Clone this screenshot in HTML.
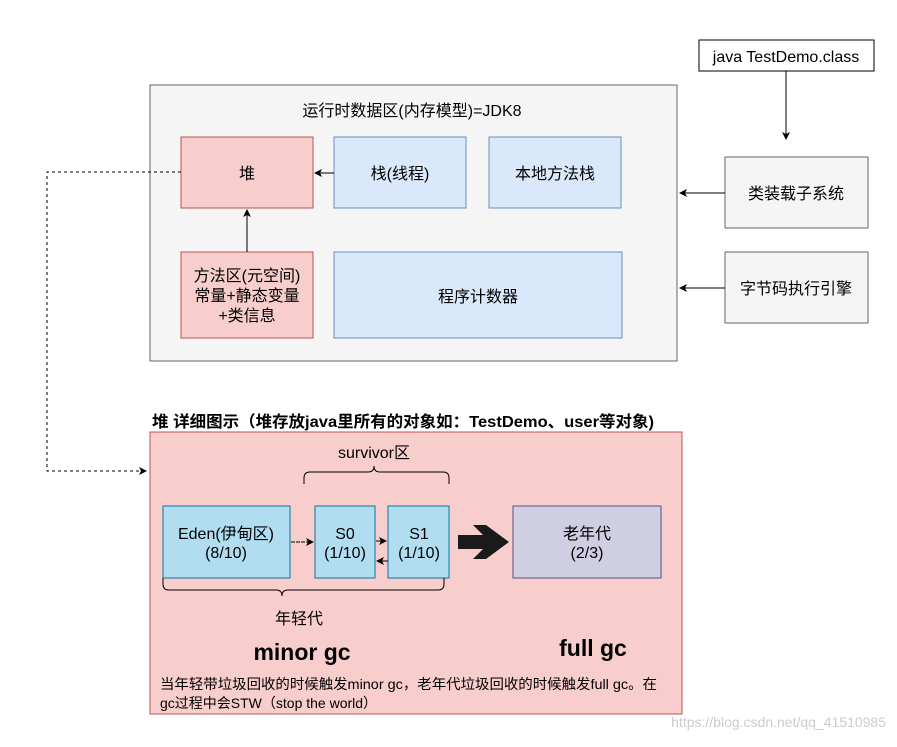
<!DOCTYPE html>
<html><head><meta charset="utf-8"><style>
body{margin:0;background:#fff;}
svg text{font-family:"Liberation Sans","Noto Sans CJK SC",sans-serif;}
</style></head><body>
<svg width="897" height="742" xmlns="http://www.w3.org/2000/svg">
<defs>
<marker id="a" markerWidth="8" markerHeight="8" refX="7" refY="4" orient="auto" markerUnits="userSpaceOnUse"><path d="M0,0 L8,4 L0,8 L2,4 z" fill="#000"/></marker>
</defs>
<rect x="150" y="85" width="527" height="276" fill="#f5f5f5" stroke="#666"/>
<text x="412" y="116" font-size="16" text-anchor="middle">运行时数据区(内存模型)=JDK8</text>
<rect x="181" y="137" width="132" height="71" fill="#f8cecc" stroke="#b85450"/>
<text x="247" y="179" font-size="16" text-anchor="middle">堆</text>
<rect x="334" y="137" width="132" height="71" fill="#dae8fc" stroke="#6c8ebf"/>
<text x="400" y="179" font-size="16" text-anchor="middle">栈(线程)</text>
<rect x="489" y="137" width="132" height="71" fill="#dae8fc" stroke="#6c8ebf"/>
<text x="555" y="179" font-size="16" text-anchor="middle">本地方法栈</text>
<rect x="181" y="252" width="132" height="86" fill="#f8cecc" stroke="#b85450"/>
<text x="247" y="281" font-size="16" text-anchor="middle">方法区(元空间)</text>
<text x="247" y="301" font-size="16" text-anchor="middle">常量+静态变量</text>
<text x="247" y="321" font-size="16" text-anchor="middle">+类信息</text>
<rect x="334" y="252" width="288" height="86" fill="#dae8fc" stroke="#6c8ebf"/>
<text x="478" y="302" font-size="16" text-anchor="middle">程序计数器</text>
<line x1="334" y1="173" x2="315" y2="173" stroke="#000" marker-end="url(#a)"/>
<line x1="247" y1="252" x2="247" y2="210" stroke="#000" marker-end="url(#a)"/>
<rect x="699" y="40" width="175" height="31" fill="#fff" stroke="#000"/>
<text x="786" y="62" font-size="16" text-anchor="middle">java TestDemo.class</text>
<line x1="786" y1="71" x2="786" y2="139" stroke="#000" marker-end="url(#a)"/>
<rect x="725" y="157" width="143" height="71" fill="#f5f5f5" stroke="#666"/>
<text x="796" y="199" font-size="16" text-anchor="middle">类装载子系统</text>
<rect x="725" y="252" width="143" height="71" fill="#f5f5f5" stroke="#666"/>
<text x="796" y="294" font-size="16" text-anchor="middle">字节码执行引擎</text>
<line x1="725" y1="193" x2="680" y2="193" stroke="#000" marker-end="url(#a)"/>
<line x1="725" y1="288" x2="680" y2="288" stroke="#000" marker-end="url(#a)"/>
<polyline points="181,172 47,172 47,471 146,471" fill="none" stroke="#000" stroke-dasharray="3,3" marker-end="url(#a)"/>
<text x="152" y="427" font-size="16" font-weight="bold" textLength="502" lengthAdjust="spacingAndGlyphs">堆 详细图示（堆存放java里所有的对象如：TestDemo、user等对象)</text>
<rect x="150" y="432" width="532" height="282" fill="#f8cecc" stroke="#b85450"/>
<text x="374" y="458" font-size="16" text-anchor="middle">survivor区</text>
<path d="M304,484 v-6 q0,-6 6,-6 h58 q6,0 6,-6 q0,6 6,6 h63 q6,0 6,6 v6" fill="none" stroke="#000"/>
<rect x="163" y="506" width="127" height="72" fill="#b1ddf0" stroke="#10739e"/>
<text x="226" y="539" font-size="16" text-anchor="middle">Eden(伊甸区)</text>
<text x="226" y="558" font-size="16" text-anchor="middle">(8/10)</text>
<rect x="315" y="506" width="60" height="72" fill="#b1ddf0" stroke="#10739e"/>
<text x="345" y="539" font-size="16" text-anchor="middle">S0</text>
<text x="345" y="558" font-size="16" text-anchor="middle">(1/10)</text>
<rect x="388" y="506" width="61" height="72" fill="#b1ddf0" stroke="#10739e"/>
<text x="419" y="539" font-size="16" text-anchor="middle">S1</text>
<text x="419" y="558" font-size="16" text-anchor="middle">(1/10)</text>
<line x1="291" y1="542" x2="313" y2="542" stroke="#000" stroke-dasharray="4,1" marker-end="url(#a)"/>
<line x1="376" y1="541" x2="386" y2="541" stroke="#000" marker-end="url(#a)"/>
<line x1="388" y1="561" x2="377" y2="561" stroke="#000" marker-end="url(#a)"/>
<path d="M458,535 h25 l-10,-10 h13 l23,17 l-23,17 h-13 l10,-10 h-25 z" fill="#1a1a1a"/>
<rect x="513" y="506" width="148" height="72" fill="#d0cee2" stroke="#56517e"/>
<text x="587" y="539" font-size="16" text-anchor="middle">老年代</text>
<text x="587" y="558" font-size="16" text-anchor="middle">(2/3)</text>
<path d="M163,578 v6 q0,6 6,6 h107 q6,0 6,6 q0,-6 6,-6 h150 q6,0 6,-6 v-6" fill="none" stroke="#000"/>
<text x="299" y="624" font-size="16" text-anchor="middle">年轻代</text>
<text x="302" y="660" font-size="23" font-weight="bold" text-anchor="middle">minor  gc</text>
<text x="593" y="656" font-size="23" font-weight="bold" text-anchor="middle">full  gc</text>
<text x="160" y="689" font-size="14" textLength="497" lengthAdjust="spacingAndGlyphs">当年轻带垃圾回收的时候触发minor gc，老年代垃圾回收的时候触发full gc。在</text>
<text x="160" y="708" font-size="14">gc过程中会STW（stop the world）</text>
<text x="886" y="727" font-size="14" fill="#ccc" text-anchor="end">https://blog.csdn.net/qq_41510985</text>
</svg>
</body></html>
